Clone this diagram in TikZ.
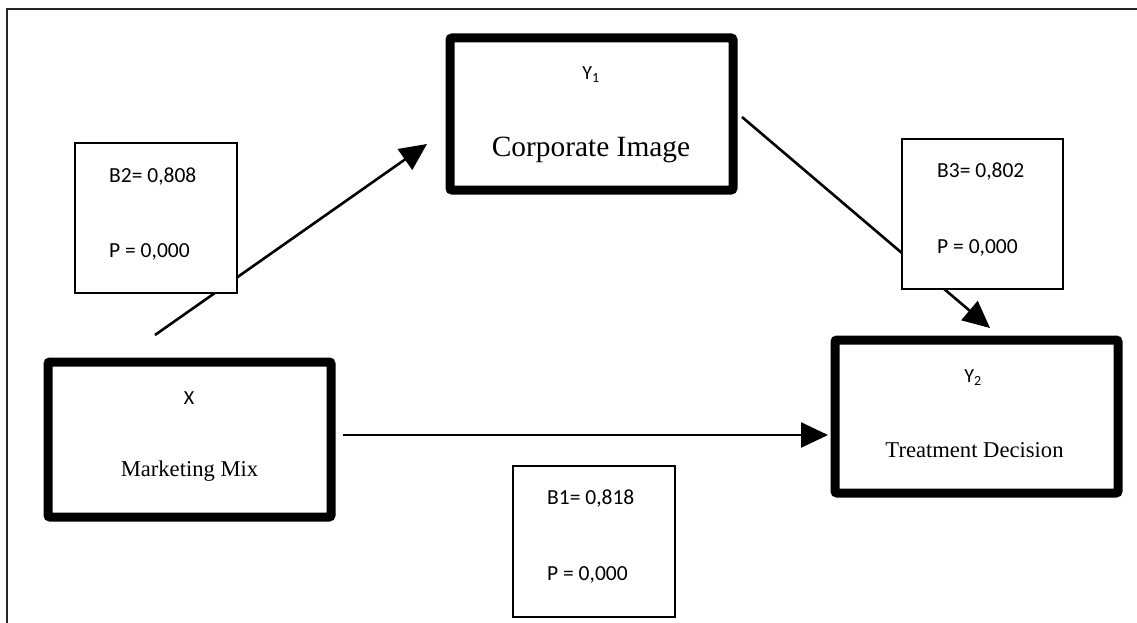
\documentclass[tikz,border=0pt]{standalone}
\usepackage{fontspec}
\setmainfont{Liberation Serif}
\newfontfamily\labfont{Carlito}
\usetikzlibrary{arrows.meta}
\begin{document}
\begin{tikzpicture}[x=1pt,y=-1pt,
  varbox/.style={draw=black, line width=9pt, rounded corners=2pt, fill=white, inner sep=0pt},
  coefbox/.style={draw=black, line width=2pt, fill=white, inner sep=0pt, minimum width=160pt, minimum height=148pt},
  path/.style={draw=black, line width=2.6pt, -{Triangle[length=27pt,width=25pt]}},
  vartext/.style={font=\fontsize{22.6}{24}\selectfont, inner sep=0pt},
  bigtext/.style={font=\fontsize{29.4}{31}\selectfont, inner sep=0pt},
  symtext/.style={font=\labfont\fontsize{20}{22}\selectfont, inner sep=0pt},
  coeftext/.style={font=\labfont\fontsize{21.5}{23}\selectfont, inner sep=0pt, anchor=west}]
\useasboundingbox (0,0) rectangle (1137,623);
\fill[white] (0,0) rectangle (1137,623);
% frame
\draw[line width=2pt, black!85] (7,623) -- (7,9) -- (1137,9);
% free ends of connectors
\coordinate (s1) at (155,335);
\coordinate (t1) at (427,144);
\coordinate (s2) at (742,117);
\coordinate (t2) at (990,328);
\coordinate (s3) at (343,435);
\coordinate (t3) at (828,435);
% connectors (drawn first, boxes cover them)
\draw[path] (s1) -- (t1);
\draw[path] (s2) -- (t2);
\draw[path] (s3) -- (t3);
% variable boxes
\node[varbox, minimum width=283pt, minimum height=152pt] (Y1) at (591.5,114) {};
\node[varbox, minimum width=283pt, minimum height=155pt] (X) at (189.5,439.5) {};
\node[varbox, minimum width=283pt, minimum height=153pt] (Y2) at (976.5,416.5) {};
\node[symtext] (Y1s) at (591,75) {Y\textsubscript{1}};
\node[bigtext] (Y1t) at (591,150) {Corporate Image};
\node[symtext] (Xs) at (189,398) {X};
\node[vartext] (Xt) at (189.5,471) {Marketing Mix};
\node[symtext] (Y2s) at (973,378) {Y\textsubscript{2}};
\node[vartext] (Y2t) at (974.5,450) {Treatment Decision};
% coefficient boxes
\node[coefbox, minimum width=162pt, minimum height=150pt] (B2) at (156,218) {};
\node[coefbox, minimum width=161pt, minimum height=150pt] (B3) at (982.5,214) {};
\node[coefbox, minimum width=162pt, minimum height=151pt] (B1) at (594,541.5) {};
\node[coeftext] (B2a) at (109,177) {B2= 0,808};
\node[coeftext] (B2b) at (109,252) {P = 0,000};
\node[coeftext] (B3a) at (937,172) {B3= 0,802};
\node[coeftext] (B3b) at (937,248) {P = 0,000};
\node[coeftext] (B1a) at (547,499) {B1= 0,818};
\node[coeftext] (B1b) at (547,575) {P = 0,000};
\end{tikzpicture}
\end{document}
